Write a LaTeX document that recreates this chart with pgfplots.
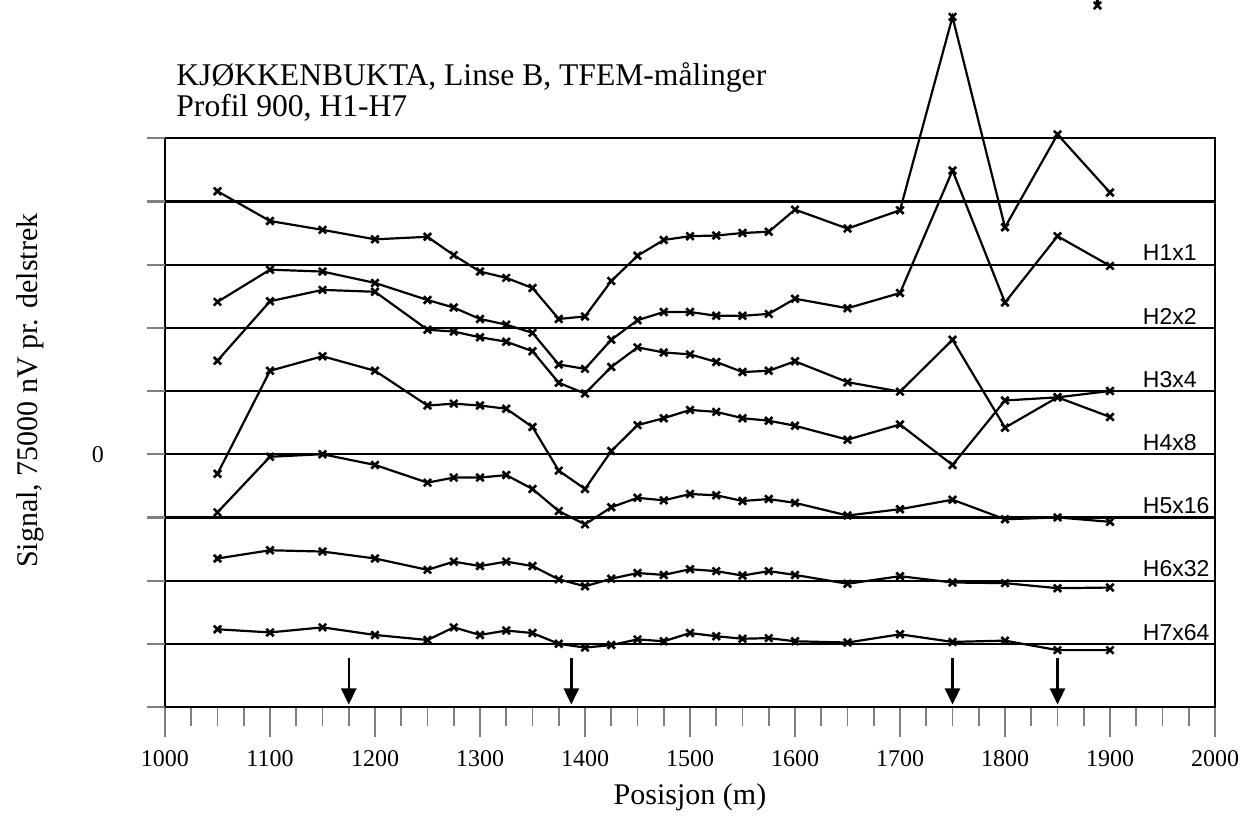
\documentclass[border=0pt]{standalone}
\usepackage{fontspec}
\setmainfont{Liberation Serif}
\newfontfamily\curvefont{Liberation Sans}
\usepackage{pgfplots}
\pgfplotsset{compat=1.18}
\usepackage{pgfplotstable}
\usetikzlibrary{arrows.meta}

\tikzset{
  trace/.style={black, solid, line width=1.1pt, mark=x, mark size=2.6pt,
                mark options={solid, line width=1.3pt}},
  channel/.style={anchor=base west, inner sep=0pt, font=\curvefont\fontsize{11.5}{13}\selectfont},
  marker arrow/.style={line width=1.2pt, -{Triangle[width=7.5pt,length=8pt]}},
  heading/.style={anchor=base west, inner sep=0pt, font=\fontsize{15.8}{18}\selectfont},
}

% TFEM signal per channel, already scaled (H1x1 ... H7x64) and shifted to its own baseline
\pgfplotstableread{
x     h1    h2    h3    h4     h5     h6     h7
1050  4.16  2.41  1.48  -0.31  -0.92  -1.65  -2.77
1100  3.69  2.92  2.42   1.32  -0.04  -1.52  -2.82
1150  3.55  2.89  2.60   1.55   0.00  -1.54  -2.74
1200  3.40  2.71  2.57   1.32  -0.17  -1.65  -2.86
1250  3.44  2.44  1.97   0.77  -0.45  -1.83  -2.94
1275  3.15  2.32  1.94   0.80  -0.37  -1.70  -2.74
1300  2.89  2.14  1.85   0.77  -0.37  -1.77  -2.86
1325  2.79  2.05  1.78   0.72  -0.33  -1.70  -2.79
1350  2.63  1.92  1.63   0.43  -0.55  -1.77  -2.83
1375  2.14  1.42  1.13  -0.26  -0.90  -1.98  -3.00
1400  2.18  1.35  0.96  -0.55  -1.11  -2.09  -3.06
1425  2.74  1.81  1.38   0.05  -0.84  -1.97  -3.02
1450  3.14  2.12  1.69   0.46  -0.69  -1.88  -2.93
1475  3.39  2.25  1.61   0.57  -0.73  -1.91  -2.96
1500  3.45  2.25  1.58   0.70  -0.63  -1.82  -2.83
1525  3.46  2.19  1.46   0.67  -0.65  -1.85  -2.88
1550  3.50  2.19  1.30   0.57  -0.74  -1.92  -2.92
1575  3.52  2.22  1.32   0.53  -0.71  -1.85  -2.91
1600  3.87  2.46  1.47   0.45  -0.77  -1.91  -2.96
1650  3.57  2.31  1.14   0.23  -0.97  -2.05  -2.98
1700  3.86  2.55  0.99   0.47  -0.87  -1.93  -2.85
1750  6.92  4.49  1.81  -0.17  -0.72  -2.03  -2.97
1800  3.59  2.40  0.42   0.85  -1.03  -2.04  -2.95
1850  5.06  3.45  0.90   0.90  -1.00  -2.12  -3.10
1900  4.14  2.98  0.59   1.00  -1.07  -2.11  -3.10
}\profil

\begin{document}
\begin{tikzpicture}[x=1pt,y=1pt]
\useasboundingbox (-82.5,-59) rectangle (546,353.5);
\begin{axis}[
  at={(0,0)}, anchor=south west,
  scale only axis, width=525pt, height=284.4pt,
  xmin=1000, xmax=2000, ymin=-4, ymax=5,
  clip=false,
  axis line style={line width=1.1pt},
  tick pos=left, tick align=outside,
  xtick={1000,1100,...,2000},
  minor x tick num=3,
  major tick length=15pt, minor tick length=9.5pt,
  x tick style={line width=0.8pt},
  ytick=\empty,
  extra y ticks={-4,-3,-2,-1,0,1,2,3,4,5},
  extra y tick labels={,,,,0,,,,,},
  extra y tick style={major tick length=9pt, grid=major,
    major grid style={black, line width=1.1pt},
    tick style={line width=1.1pt},
    yticklabel style={xshift=-18pt}},
  /pgf/number format/assume math mode=true,
  /pgf/number format/1000 sep={},
  tick label style={font=\fontsize{12}{13}\selectfont},
  xticklabel style={yshift=-3pt},
  xlabel={Posisjon (m)},
  xlabel style={font=\fontsize{15}{17}\selectfont, at={(axis description cs:0.5,-0.158)}, anchor=center},
  ylabel={Signal, 75000 nV pr. delstrek},
  ylabel style={font=\fontsize{15}{17}\selectfont, at={(axis description cs:-0.128,0.556)}, anchor=center, rotate=0},
]
\addplot[trace] table[x=x, y=h1] {\profil};
\addplot[trace] table[x=x, y=h2] {\profil};
\addplot[trace] table[x=x, y=h3] {\profil};
\addplot[trace] table[x=x, y=h4] {\profil};
\addplot[trace] table[x=x, y=h5] {\profil};
\addplot[trace] table[x=x, y=h6] {\profil};
\addplot[trace] table[x=x, y=h7] {\profil};
% stray reading at the top edge
\addplot[trace] coordinates {(1888,7.1) (1888,7.3)};

% channel names above their baselines
\node[channel] at (axis cs:1931,3.06)  {H1x1};
\node[channel] at (axis cs:1931,2.06)  {H2x2};
\node[channel] at (axis cs:1931,1.06)  {H3x4};
\node[channel] at (axis cs:1931,0.06)  {H4x8};
\node[channel] at (axis cs:1931,-0.94) {H5x16};
\node[channel] at (axis cs:1931,-1.94) {H6x32};
\node[channel] at (axis cs:1931,-2.94) {H7x64};

% anomaly markers
\draw[marker arrow] (axis cs:1175,-3.22) -- (axis cs:1175,-3.96);
\draw[marker arrow] (axis cs:1387,-3.22) -- (axis cs:1387,-3.96);
\draw[marker arrow] (axis cs:1750,-3.22) -- (axis cs:1750,-3.96);
\draw[marker arrow] (axis cs:1850,-3.22) -- (axis cs:1850,-3.96);

% heading
\node[heading] at (axis cs:1010.5,5.84) {KJØKKENBUKTA, Linse B, TFEM-målinger};
\node[heading] at (axis cs:1010.5,5.35) {Profil 900, H1-H7};
\end{axis}
\end{tikzpicture}
\end{document}
